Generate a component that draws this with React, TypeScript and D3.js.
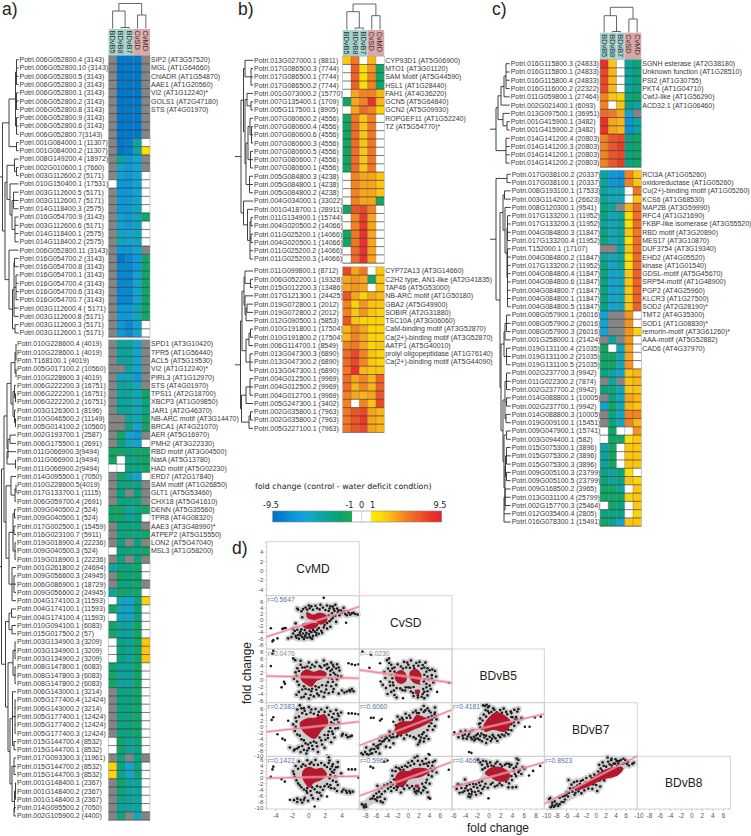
import React from "react";
import * as d3 from "d3";

type Tree = (number | Tree)[];
type V = number | null;
const N: V = null;
const font = "'Liberation Sans', Arial, sans-serif";

const colsBD = ["BDvB5", "BDvB8", "BDvB7", "CvSD", "CvMD"];

// ---------- panel a, upper block
const aTopLabels = ["Potri.006G052800.4 (3143)","Potri.006G052800.10 (3143)","Potri.006G052800.5 (3143)","Potri.006G052800.3 (3143)","Potri.006G052800.1 (3143)","Potri.006G052800.2 (3143)","Potri.006G052800.8 (3143)","Potri.006G052800.9 (3143)","Potri.006G052800.6 (3143)","Potri.006G052800.7(3143)","Potri.001G084000.1 (11307)","Potri.001G084000.2 (11307)","Potri.008G149200.4 (18972)","Potri.002G010600.1 (7660)","Potri.003G112600.2 (5171)","Potri.010G150400.1 (17531)","Potri.003G112600.5 (5171)","Potri.003G112600.7 (5171)","Potri.014G118400.3 (2575)","Potri.016G054700.9 (3143)","Potri.003G112600.6 (5171)","Potri.014G118400.1 (2575)","Potri.014G118400.2 (2575)","Potri.006G052800.11 (3143)","Potri.016G054700.2 (3143)","Potri.016G054700.8 (3143)","Potri.016G054700.1 (3143)","Potri.016G054700.4 (3143)","Potri.016G054700.6 (3143)","Potri.016G054700.7 (3143)","Potri.003G112600.4 ( 5171)","Potri.003G112600.8 (5171)","Potri.003G112600.3 (5171)","Potri.003G112600.1 (5171)"];
const aTopGenes = ["SIP2 (AT3G57520)","MGL (AT1G64660)","ChlADR (AT1G54870)","AAE1 (AT1G20560)","VI2 (AT1G12240)*","GOLS1 (AT2G47180)","STS (AT4G01970)"];
const aTopValues: V[][] = [[N,-9,-9,-9,N],[N,-9,-9,-9,N],[N,-9,-9,-9,N],[N,-9,-9,-9,N],[N,-9,-9,-9,N],[N,-9,-9,-9,N],[N,-9,-9,-9,N],[N,-9,-9,-9,N],[N,-9,-9,-9,N],[N,-9,-9,-9,N],[N,-9,-8.5,-4,0],[N,-9,-8.5,-4,2],[N,-4,-7,-6,N],[N,-6,-7,-6,N],[N,-6,-7,-6,0],[0,-7,-7,-6,0],[N,-7,-7,-6,0],[N,-7,-7,-6,0],[N,-7,-7,-5,0],[N,-6,-7,-5,-2],[N,-6,-7,-5,0],[N,-5,-6,-5,0],[N,-5,-6,-5,0],[N,-7,-7,-6,N],[N,-9,-8,-7,-2],[N,-8,-8,-7,-2],[N,-8,-8,-6,-2],[N,-8,-8,-6,-2],[N,-8,-8,-6,-2],[N,-8,-8,-6,-2],[N,-7,-7,-5,-2],[N,-7,-7,-5,-2],[N,-7,-8,-6,0],[N,-7,-8,-6,0]];
const aTopTree: Tree = [2.5,[9,[15.5,[16.5,4],[16.5,3],[16.5,3]],[16.5,2]],[5,[7,[14.5,1,[16.5,2]],[10,1,[12,[13.5,3],[15,4]]]],[9,1,[12.5,[14,[14.5,2],[16,4],1,1],[15,2]]]]];

// ---------- panel a, lower block
const aLowLabels = ["Potri.010G228600.4 (4019)","Potri.010G228600.1 (4019)","Potri.T168100.1 (4019)","Potri.005G017100.2 (10560)","Potri.010G228600.3 (4019)","Potri.006G222200.3 (16751)","Potri.006G222200.1 (16751)","Potri.006G222200.2 (16751)","Potri.003G126300.1 (8196)","Potri.010G046500.2 (11149)","Potri.005G014100.2 (10560)","Potri.002G193700.1 (2587)","Potri.006G175500.1 (2691)","Potri.011G066900.3(9494)","Potri.011G066900.1(9494)","Potri.011G066900.2(9494)","Potri.014G095500.1 (7050)","Potri.010G228600.5(4019)","Potri.017G133700.1 (1115)","Potri.006G059700.4 (2691)","Potri.009G040500.2 (524)","Potri.009G040500.1 (524)","Potri.017G002500.1 (15459)","Potri.016G023100.7 (5911)","Potri.019G018900.4 (22236)","Potri.009G040500.3 (524)","Potri.019G018900.1 (22236)","Potri.001G261800.2 (24694)","Potri.009G056600.3 (24945)","Potri.006G086900.1 (18729)","Potri.009G056600.2 (24945)","Potri.004G174100.3 (11593)","Potri.004G174100.1 (11593)","Potri.004G174100.4 (11593)","Potri.010G094100.1 (6083)","Potri.015G017500.2 (57)","Potri.003G134900.3 (3209)","Potri.003G134900.1 (3209)","Potri.003G134900.2 (3209)","Potri.008G147800.1 (6083)","Potri.008G147800.3 (6083)","Potri.008G147800.2 (6083)","Potri.006G143000.1 (3214)","Potri.005G177400.4 (12424)","Potri.006G143000.2 (3214)","Potri.005G177400.1 (12424)","Potri.005G177400.2 (12424)","Potri.005G177400.3 (12424)","Potri.015G144700.4 (8532)","Potri.015G144700.1 (8532)","Potri.017G093300.3 (11961)","Potri.015G144700.2 (8532)","Potri.015G144700.3 (8532)","Potri.001G148400.1 (2367)","Potri.001G148400.2 (2367)","Potri.001G148400.3 (2367)","Potri.014G095500.2 (7050)","Potri.002G105900.2 (4400)"];
const aLowGenes = ["SPD1 (AT3G10420)","TPR5 (AT1G56440)","ACL5 (AT5G19530)","VI2 (AT1G12240)*","PIRL3 (AT1G12970)","STS (AT4G01970)","TPS11 (AT2G18700)","XBCP3 (AT1G09850)","JAR1 (AT2G46370)","NB-ARC motif (AT3G14470)","BRCA1 (AT4G21070)","AER (AT5G16970)","PMH2 (AT3G22330)","RBD motif (AT3G04500)","NatA (AT5G13780)","HAD motif (AT5G02230)","ERD7 (AT2G17840)","SAM motif (AT1G26850)","GLT1 (AT5G53460)","CHX18 (AT5G41610)","DENN (AT5G35560)","TPR8 (AT4G08320)","AAE3 (AT3G48990)*","ATPEP2 (AT5G15550)","LON2 (AT5G47040)","MSL3 (AT1G58200)"];
const aLowValues: V[][] = [[N,-4,-4,-6,N],[N,-4,-4,-6,N],[N,-4,-4,-6,N],[N,N,-4,-6,N],[N,-6,-5,-7,N],[N,-4,-4,-5,N],[N,-4,-4,-5,-2],[N,-4,-4,-5,-3],[N,-4,-4,-5,-3],[N,N,-4,-5,-2],[N,N,-3,-6,-2],[N,-2,-6,-7,N],[N,-3,-5,-6,0],[-2,-2,-3,-2,-2],[-2,0,-3,-3,-2],[0,0,-3,-3,-2],[N,-2,-4,-6,0],[N,-3,-3,-3,N],[N,-3,N,-3,N],[N,-3,-3,-3,N],[-2,-2,-4,-3,-2],[-2,-2,-4,-3,0],[N,-3,-3,-3,N],[N,-3,-3,-3,-2],[N,-3,N,-3,N],[0,-3,-3,-3,-2],[N,-3,N,-3,N],[-4,-3,-3,-2,0],[N,-2,-3,-2,0],[N,-3,-3,-2,N],[-4,-2,-3,-2,0],[0,-5,-6,-3,2.5],[-2,-5,-6,-3,0],[0,-5,-6,-3,0],[-2,-4,-4,-2,0],[-2,-4,-4,-2,0],[0,-3,-4,-2,3],[0,-3,-4,-2,3],[0,-3,-4,-2,3],[-2,-4,-4,-2,0],[-2,-4,-4,-2,0],[-2,-4,-4,-2,0],[N,-3,-3,-2,0],[N,-3,-3,-2,0],[N,-3,-3,-2,0],[N,-3,-3,-2,0],[N,-3,-3,-2,0],[N,-3,-3,-2,0],[0,-2,-4,-3,0],[0,-2,-4,-3,0],[N,-3,N,-3,N],[2.5,-3,-6,-3,0],[2.5,-3,-6,-3,0],[N,-2,-4,-4,0],[N,-3,-4,-4,0],[N,-3,-4,-4,0],[N,-4,-4,-4,0],[N,-3,N,-5,N]];
const aLowTree: Tree = [1.5,[4,[7,[11,[15,[16,3],[16,2]],[13,[14.5,1,[15.5,2]],[14.5,1,[15.5,2]]]],[8,[10,2],[7,1,[15.5,2]]]],[6,[11,1,[15,[16,2],1]],[9,[13,[14.5,2],[14,2],[15,3]],[12,1,[14,3],1]]]],[5.5,[9,[11.5,2],[12,2]],[8,[13,[15,3],[15,3]],[10,[12.5,1,[15,5],[14,2]],[12,[14,3],[14.5,[15.5,3],[14,2]]]]]]];

// ---------- panel b, upper block
const bTopLabels = ["Potri.013G027000.1 (8811)","Potri.017G086500.3 (7744)","Potri.017G086500.1 (7744)","Potri.017G086500.2 (7744)","Potri.001G073000.2 (15770)","Potri.007G135400.1 (1709)","Potri.005G117500.1 (8905)","Potri.007G080600.2 (4556)","Potri.007G080600.4 (4556)","Potri.007G080600.6 (4556)","Potri.007G080600.3 (4556)","Potri.007G080600.5 (4556)","Potri.007G080600.7 (4556)","Potri.007G080600.1 (4556)","Potri.005G084800.3 (4238)","Potri.005G084800.1 (4238)","Potri.005G084800.2 (4238)","Potri.004G034000.1 (33022)","Potri.001G418700.1 (28911)","Potri.011G134900.1 (15744)","Potri.004G020500.2 (14066)","Potri.011G025200.1 (14066)","Potri.004G020500.1 (14066)","Potri.011G025200.2 (14066)","Potri.011G025200.3 (14066)"];
const bTopGenes = ["CYP93D1 (AT5G06900)","MTO1 (AT3G01120)","SAM Motif (AT5G44590)","HSL1 (AT1G28440)","FAH1 (AT4G36220)","GCN5 (AT5G64840)","GCN2 (AT5G09930)","ROPGEF11 (AT1G52240)","TZ (AT5G54770)*"];
const bTopValues: V[][] = [[3,5.5,0,3.5,0],[0,6.5,2,4.5,-2],[0,6.5,2,5,-2],[0,6.5,2,5,-2],[0,4,5,5,3.5],[-2,4,5,8.5,3.5],[0,4,6,5,2.5],[-2,5.5,3,5,0],[-2,6,3,5.5,0],[-2,6,3,5.5,0],[-2,6,3,5.5,0],[-2,6,3,5.5,0],[-2,6,3,5.5,0],[-2,6,3,5.5,0],[0,5,4,4,3],[0,5,4,4,3],[0,5,4,4,3],[0,5,4,4,-2],[-2,7,7.5,5,0],[0,5,8,4,0],[0,5,8,4,0],[-2,5.5,8.5,4,0],[-2,5.5,8.5,4,0],[0,6,8.5,4,0],[0,6,8.5,4,0]];
const bTopTree: Tree = [6,[8.5,[10,1,[16,3]],[10,[12,1,[16,2]],[11,[13,[15,1,[16.5,3]],[15.5,3]],[14.5,3]]]],[8.5,1,[12.5,1,[15,[16,2],[16,2],2]]]];

// ---------- panel b, lower block
const bLowLabels = ["Potri.011G099800.1 (8712)","Potri.006G052200.1 (19328)","Potri.015G012200.3 (13486)","Potri.017G121300.1 (24425)","Potri.019G072800.1 (2012)","Potri.019G072800.2 (2012)","Potri.012G090500.1 (5853)","Potri.010G191800.1 (17504)","Potri.010G191800.2 (17504)","Potri.006G114700.1 (8549)","Potri.013G047300.3 (6890)","Potri.013G047300.2 (6890)","Potri.013G047300.1 (6890)","Potri.004G012500.1 (9969)","Potri.004G012500.2 (9969)","Potri.004G012700.1 (9969)","Potri.005G247300.1 (3402)","Potri.002G035800.1 (7963)","Potri.002G035800.2 (7963)","Potri.005G227100.1 (7963)"];
const bLowGenes = ["CYP72A13 (AT3G14660)","C2H2 type, AN1-like (AT2G41835)","TAP46 (AT5G53000)","NB-ARC motif (AT1G50180)","GBA2 (AT5G49900)","SOBIR (AT2G31880)","TSC10A (AT3G06060)","CaM-binding motif (AT3G52870)","Ca(2+)-binding motif (AT3G52870)","AATP1 (AT5G40010)","prolyl oligopeptidase (AT1G76140)","Ca(2+)-binding motif (AT5G44090)"];
const bLowValues: V[][] = [[7.5,4,5.5,0,3],[4,4.5,4,-2,3],[4,4.5,4,0,3],[7,4,2.5,4,3.5],[5,2.5,4.5,3,3],[5,3,4.5,3,2.5],[7,3,2.5,2.5,2.5],[3.5,5,4,2.5,2.5],[3.5,5,4,2.5,2.5],[5,5.5,4,2.5,3],[6,7.5,5,3,2.5],[6,7.5,5,3,2.5],[5.5,8.5,3.5,3,3],[6,4,5,3.5,6.5],[6,3.5,5,3.5,6.5],[5,4,3.5,4,7],[5,0,5,3,7.5],[5.5,7,7.5,4,3.5],[5.5,7,8,4,3.5],[5.5,7,7.5,4,3.5]];
const bLowTree: Tree = [5.5,[7,[9,[10,1,[15.5,2]],[10,1,[11,[12,2],1]]],[11,[14,[15.5,2],1],[15,3]]],[6.5,[11,[15,3],1],[14,[15.5,2],1]]];

// ---------- panel c, upper block
const cTopLabels = ["Potri.016G115800.3 (24833)","Potri.016G115800.1 (24833)","Potri.016G115800.4 (24833)","Potri.016G116000.2 (22322)","Potri.011G059800.1 (27464)","Potri.002G021400.1 (6093)","Potri.013G097500.1 (36951)","Potri.001G415900.1 (3482)","Potri.001G415900.2 (3482)","Potri.014G141200.4 (20803)","Potri.014G141200.3 (20803)","Potri.014G141200.1 (20803)","Potri.014G141200.2 (20803)"];
const cTopGenes = ["SGNH esterase (AT2G38180)","Unknown function (AT1G28510)","PSI2 (AT1G30755)","PKT4 (AT1G04710)","CwfJ-like (AT1G56290)","ACD32.1 (AT1G06460)"];
const cTopValues: V[][] = [[8.5,3,0,-4,-3],[7.5,3.5,0,-4,-3],[7.5,3.5,0,-4,-3],[7.5,3.5,0,-4,-3],[5,3,2.5,-3,-2],[5,0,3,-3,-4.5],[6,5.5,4,-6,N],[8.5,4,3.5,-7.5,-4],[8.5,4,3.5,-7.5,-4],[5,7,7.5,-3,-2],[5,7,8,-3,-2],[5,7,7.5,-3,-2],[5,7,8,-3,-2]];
const cTopTree: Tree = [6,[8,[11,[14,[16,4],1],1],[13,1,[17,2]]],[16,4]];

// ---------- panel c, lower block
const cLowLabels = ["Potri.017G038100.2 (20337)","Potri.017G038100.1 (20337)","Potri.008G193100.1 (17533)","Potri.003G114200.1 (26623)","Potri.008G120300.1 (9541)","Potri.017G133200.1 (11952)","Potri.017G133200.3 (11952)","Potri.004G084800.3 (11847)","Potri.017G133200.4 (11952)","Potri.T152000.1 (17107)","Potri.004G084800.2 (11847)","Potri.017G133200.2 (11952)","Potri.004G084800.4 (11847)","Potri.004G084800.6 (11847)","Potri.004G084800.7 (11847)","Potri.004G084800.1 (11847)","Potri.004G084800.5 (11847)","Potri.008G057900.1 (26016)","Potri.008G057900.2 (26016)","Potri.008G057900.3 (26016)","Potri.001G258000.1 (21424)","Potri.019G131100.4 (21035)","Potri.019G131100.2 (21035)","Potri.019G131100.5 (21035)","Potri.002G237700.3 (9942)","Potri.011G022300.2 (7874)","Potri.002G237700.2 (9942)","Potri.014G088800.1 (10005)","Potri.002G237700.1 (9942)","Potri.014G088800.3 (10005)","Potri.019G009100.1 (15451)","Potri.009G047900.1 (15741)","Potri.003G094400.1 (582)","Potri.015G075300.1 (3896)","Potri.015G075300.2 (3896)","Potri.015G075300.3 (3896)","Potri.009G005100.3 (23799)","Potri.009G005100.5 (23799)","Potri.009G168500.2 (3965)","Potri.013G031100.4 (25799)","Potri.002G157700.3 (25464)","Potri.012G035400.4 (2805)","Potri.016G078300.1 (15491)"];
const cLowGenes = ["RCI3A (AT1G05260)","oxidoreductase (AT1G05260)","Cu(2+)-binding motif (AT1G05260)","KCS6 (AT1G68530)","MAP2B (AT3G59990)","RFC4 (AT1G21690)","FKBP-like isomerase (AT3G55520)","RBD motif (AT3G20890)","MES17 (AT3G10870)","DUF3754 (AT3G19340)","EHD2 (AT4G05520)","kinase (AT1G01540)","GDSL-motif (AT5G45670)","SRP54-motif (AT1G48900)","PGP2 (AT4G25960)","KLCR3 (AT1G27500)","SOD2 (AT2G28190)*","TMT2 (AT4G35300)","SOD1 (AT1G08830)*","remorin-motif (AT3G61260)*","AAA-motif (AT5G52882)","CAD6 (AT4G37970)"];
const cLowValues: V[][] = [[-4,-7,-7.5,5,3],[-4,-7,-7.5,5,3],[-4,-5,-5,0,5.5],[-4,-5,-5,0,3],[-3,-4,N,3.5,6],[-3,-5,-4,2,6],[-4,-5,-4,2,6],[-3,-5,-4,3,5.5],[-3,-5,-4,2,6],[N,N,-4,3,6],[-4,-5,-4,2,6],[-3,-6,-4,2,6],[-3,-6,-5,3,6.5],[-3,-6,-5,3,6.5],[-3,-6,-5,3,6.5],[-3,-6,-5,3,6.5],[-3,-6,-5,3,6.5],[-6,N,N,4.5,0],[-6,N,N,4.5,0],[-6,N,N,4.5,2.5],[N,-4,N,4.5,0],[-2,0,-5,4,0],[-2,-2,-5,4,0],[-2,-2,-5,4.5,0],[-3,-4,-6,3,3.5],[N,-4,N,3,3.5],[-3,-3,-5,3,3],[N,-3,-5,4,3.5],[-6,-2,-5,3.5,3],[N,-3,-5,5,5],[N,-3,-5,5,3.5],[0,-2,0,0,4.5],[0,-2,-2,2,3],[-4,-2,0,3,3],[-4,-2,0,3,3],[-4,-2,0,3,3],[-3,-4,-3,2,0],[-3,-4,-3,3,2.5],[-2,-2,-4,0,3],[-2,-2,-2,2.5,3],[0,-2,-3,0,3],[-3,-3,-3,0,2.5],[-2,-3,-6,3,3]];
const cLowTree: Tree = [6,[17,2],[10,[13,[14.5,2],[15,1,[17,[17.5,4],[17.5,8]]]],[11,[14,[15,[16.5,3],1],[16.5,3]],[13,[15,[16.5,3],[16.5,2],[16,2]],[14,[16.5,2],[15,[15.5,[16.5,3],[16.5,2]],[14,[15,3],1,1]]]]]]];

// column dendrogram: position along the height axis, then the columns it joins
const aColTree: Tree = [3.5,[11,1,[27.5,2]],[15,2]];
const bColTree: Tree = [4,[11.7,1,[28,2]],[15.7,2]];
const cColTree: Tree = [7.3,[15.7,1,[31.5,2]],[19,2]];

// ---------- legend
const legendTicks = [-9.5, -1, 0, 1, 9.5];
const colorStops = [-9.5,-8.5,-7.5,-6.5,-5.5,-4.5,-3.5,-2.5,-1,1,2,3,4,5,6,7,8,9.5];
const colorValues = ["#0072c8","#0080cf","#0a92d8","#0d9fdc","#12a8c8","#0aa5ad","#0aa590","#08a570","#20a850","#ffec00","#fee000","#fdc50f","#f9a51a","#f58220","#f16a28","#ec5528","#e93a28","#e8202a"];
const colorScale = d3.scaleLinear<string>().domain(colorStops).range(colorValues);
const cellFill = (v: V) => (v === null ? "#858585" : Math.abs(v) < 1 ? "#ffffff" : colorScale(v));

// ---------- panel d
const traits = ["CvMD", "CvSD", "BDvB5", "BDvB7", "BDvB8"];
const xDomains = [[-5.1,6.1],[-9.2,8.2],[-6.3,9.4],[-10.5,8.3],[-10.3,7.3]];
const yDomains = [[6.2,-5.3],[8,-9.5],[8.9,-6.5],[8.1,-9.95],[7,-10.3]];
const xTickVals = [[-4,-2,0,2,4],[-8,-6,-4,-2,0,2,4,6],[-6,-4,-2,0,2,4,6,8],[-10,-8,-6,-4,-2,0,2,4,6],[-10,-8,-6,-4,-2,0,2,4,6]];
const yTickVals = [[4,2,0,-2,-4],[6,4,2,0,-2,-4,-6,-8],[8,6,4,2,0,-2,-4,-6],[6,4,2,0,-2,-4,-6,-8,-10],[6,4,2,0,-2,-4,-6,-8,-10]];

type P = [number, number];
const ptsMD_SD: P[] = [[-4.6,-2.7],[-4.3,-6.6],[-4.4,-7],[-3.8,-6],[-3.2,-2.9],[-3,-2.7],[-2.8,-2.6],[-2.5,-6],[-2.1,-5.6],[-1.9,-4.4],[-1.6,-1.1],[-1.5,-5.8],[-1.3,-4.9],[-1.2,-6.1],[-1,-5],[-.8,-5.6],[-.6,-6.2],[-.4,-5],[-.2,-5.8],[0,-4.6],[.2,-5.9],[.4,-6.1],[.3,-4],[.7,-3.8],[.9,-5],[1.2,-4.5],[-.5,-3.3],[-1,-3.7],[1.5,-3.5],[-1.4,3.8],[-1.3,3.4],[-.9,2.9],[-.4,4.1],[0,4.8],[.3,4.5],[.8,4.7],[1,3.9],[1.4,5],[1.8,7.3],[2.2,4.8],[2.5,3.8],[2.9,4.4],[3.2,5],[3.4,3.8],[3.1,3],[2.8,2.2],[3.5,2.6],[3.7,1.6],[3.9,3.1],[4.2,4],[4.4,2],[4.6,1.6],[4.8,2.5],[5,1.8],[5.2,2.2],[5.4,2.4],[5.6,2],[5.9,1.8],[2.9,.8],[3.3,-.6],[2.2,-1],[2.6,-2.2],[1.8,-2.4],[4.5,-.9],[-.8,.9],
  [-.7,3.6],[-.2,3.4],[.1,3.9],[.5,3.4],[1.3,3.5],[1.7,4.1],[2,3.3],[2.4,3],[2.6,4.5],[3,3.6],[3.6,3.2],[4,2.4],[4.3,2.8],[2.4,1.5],[2.7,.2],[3.2,1.4],[2.5,-.4],[1.9,-1.6],[2.2,-2.8],[1.2,-2.6],[1.6,-4.2],[.9,-4.2],[.5,-3.3],[.1,-3.6],[-.3,-4.2],[-.7,-4.4],[-1.1,-4.2],[-1.4,-3.2],[-.9,-3],[-1.6,-5.2],[-.5,-5.5],[.5,-5.2],[.1,-5.4],[-1.7,-3.6],[-1.9,-2.9],[1,-3.2]];
const ptsMD_B5: P[] = [[-4.3,8.4],[-4.4,7.5],[-4.6,4],[-1.9,6.2],[-1.65,5.7],[-1,5.5],[-3,-.5],[-2.9,-1.1],[-3.3,-2.1],[4.8,4.8],[5.2,4.5],[5.6,4.3],[6,4.5],[4,-3],[4.6,-3.3],[5,-3.2],[5.4,-3.2],[5.2,-2.6],[4.3,-3.6],[3.6,-3.9],[-1.5,-4.2],[-1.2,-3.4],[-.9,-5],[-.6,-1.8],[-.4,-4],[0,-5.3],[.3,-3.2],[.6,-4.7],[.9,-2.8],[1.2,-4.4],[1.5,-3.3],[1.8,-4.8],[2.1,-2.7],[2.4,-3.8],[2.7,-1.8],[3,-2.6],[-1.4,3.4],[-1,4.4],[-.5,3.6],[0,5],[.4,4.4],[.9,5.1],[1.3,4],[1.8,5.6],[2.2,4.5],[2.7,5],[3,3.8],[3.4,4.5],[3.7,2.7],[3.2,1.6],[3.9,1],[3.4,.2],[2.9,-.5],[2.4,.6],[2.6,2.6],[-1.5,1.2],[-1.8,.4],
  [-.8,3.6],[-.2,3.9],[.2,3.5],[.7,3.9],[1.5,3.6],[1.9,4.2],[2.4,3.6],[2.9,4.4],[3.3,3.3],[3.6,3.6],[2.8,3],[2.2,3.2],[3,2.1],[3.5,1.2],[2.6,1.5],[2.8,.4],[2.3,-.6],[2.1,-1.6],[1.6,-1.5],[1.2,-2.1],[.8,-1.8],[.4,-2.5],[0,-2.7],[-.4,-2.5],[-.8,-2.7],[-1.2,-1.4],[-1.4,-.4],[-1.6,2.2],[-1.2,2.6],[1.9,-3.6],[2.9,-3.4],[.2,-4.3],[-.6,-4.8],[1,-3.9],[3.3,-1.4],[4.9,-2.9]];
const ptsMD_B7: P[] = [[-4.3,3.2],[-4.5,2.3],[-3.8,-2.5],[-3.2,-4],[-2.9,-4.5],[-2.5,2],[4.8,4.5],[5.2,4.5],[5.6,4.4],[6,4.2],[4,-3],[4.5,-2.8],[5,-3.3],[5.2,-3],[4.7,-3.5],[-2.3,-7],[-1.8,-8],[-1.4,-7.3],[-1,-8.5],[-.6,-7.8],[-.8,-6.5],[-.3,-9],[1.1,-8.5],[2.2,-9.6],[-1.1,7.2],[-.9,6.2],[-.5,5.4],[0,6.6],[.3,5.8],[.8,6],[1.2,5],[2.2,6.4],[2.6,5.2],[3,4.4],[3.3,5.6],[3.6,3.6],[3.9,4.8],[3.4,2.5],[3,1],[3.5,-.4],[2.8,-1.6],[2.3,-2.8],[3.1,-3.6],[2,-4.4],[1.3,-3.6],[1.6,-6],[.9,-5.4],[.4,-6.4],[0,-7.2],[-.4,-5.6],[-.9,-4.2],[-1.4,-2.6],[-1.6,0],[-1.2,3.4],[-1.5,1.8],[1.9,-7.1],[2.7,-5.2],
  [-.8,4.6],[-.3,4.2],[.2,4.8],[.6,4.4],[1.5,5.8],[1.9,5],[2.4,4],[2.8,3.2],[3.1,2.4],[3.5,4.4],[2.7,1.5],[3.2,-.6],[2.6,-.4],[2.9,-2.4],[2.4,-1.6],[1.9,-2.8],[1.5,-4.6],[2.3,-3.8],[1,-6.6],[.6,-5],[.2,-5.4],[-.1,-6],[-.6,-4.6],[-.2,-8],[.5,-7.6],[-1.1,-3],[-1.7,-1.4],[-1.9,.8],[-1.6,3],[-1.4,5.8],[-.6,6.2],[1.1,3.9],[3.6,1.4],[4.1,-2.4],[-1.7,-7.6],[-1.2,-6.8]];
const ptsMD_B8: P[] = [[-4.3,3.6],[-4.4,2.7],[-4.6,.3],[-3.3,-.5],[-2.9,-1.3],[4.8,2.7],[5.2,2.7],[5.6,2.7],[6,0],[4,-4.6],[4.5,-4.3],[5,-5],[5.3,-4.6],[4.6,-5],[-2.3,-7.3],[-1.8,-7.4],[-1.4,-8],[-1,-7.3],[-.8,-8.2],[-.5,-6.6],[.7,-9.5],[1.1,-7],[2.2,-6.2],[-1.2,5.3],[-.7,4.4],[-.2,5.7],[.3,5],[.8,5.8],[1.1,4.2],[2.4,6.7],[2.5,5.6],[2.9,4.4],[3.3,3.4],[3.5,5.1],[2.8,1.9],[3.2,.4],[2.9,-1],[3.5,-2.4],[2.2,-2.1],[2.7,-3.5],[1.7,-4],[1,-4.8],[.3,-5.8],[-.3,-4.3],[-.9,-3.2],[-1.3,-1.9],[-1.7,.3],[-1.9,2],[-1.3,2.9],[1.5,-5.9],[.5,-6.8],[-.1,-7.6],[3.4,-4.4],[2.2,3.5],[3.9,1.4],
  [-.9,3.6],[-.4,3.9],[.1,4.5],[.6,4.2],[1.5,4.8],[1.9,4.1],[2.4,4.8],[2.8,3.7],[3.1,2.6],[3.5,3.5],[2.6,2.8],[2.6,.9],[3,1.6],[2.5,-.2],[3.3,-1.4],[2.6,-2.4],[1.9,-2.8],[2.4,-3],[1.4,-3.1],[1,-2.8],[.7,-3.8],[.2,-4.4],[-.2,-5],[-.6,-3.9],[-1.1,-2.5],[-1.5,-.9],[-1.8,1.2],[-1.6,3.8],[3.1,-3.6],[1.3,-5],[-.6,-7.3],[-1.4,-6.9],[-.2,-3.4],[.4,-3.2],[4.2,-3.9],[4.9,-4.4]];
const ptsSD_B5: P[] = [[-7,7.2],[-8.6,8.2],[-5.3,4.8],[-4,5.7],[-3.6,6.2],[-3.6,4.9],[-7.3,3.5],[-5.2,-.4],[-4.8,-1.4],[-4.2,-2.3],[-3.9,-4],[-3.2,-3.4],[-2.6,-4.3],[-2.2,-5],[-4.3,.6],[-4.5,2.3],[-3.8,3.3],[-3.2,4.4],[-2.6,3.6],[-2,4.5],[-1.4,3.9],[-.8,5.2],[0,4.4],[.5,5.6],[1,4.1],[1.5,4.9],[2.1,5.2],[2.7,4.3],[3.2,5],[3.6,3.4],[4,2.8],[4.5,3],[5,2.6],[4.4,1.4],[3.8,.2],[4.7,-.7],[3.4,-2.1],[4.2,-2.6],[3,-3.4],[3.6,-4.4],[2.5,-4.8],[1.8,-5],[1,-4.6],[.5,-3.3],[0,-2.1],[-.6,-3],[-1.5,-2.4],[-2.8,-1.5],[-3.2,1.5],[7.6,-.8],[5.2,1],[5.4,-3.4],[-1,-5.2],
  [-3.4,2.6],[-3,3.3],[-2.6,2.4],[-1,3.3],[-.4,3.6],[.3,3.5],[1.1,3.4],[1.9,4.1],[2.5,3.3],[3,3.6],[3.4,2.4],[3,1.5],[3.6,1],[3.1,.2],[2.9,-.4],[3.4,-1.1],[4,-1.6],[3.6,-3.2],[2.8,-2.6],[2.7,-4],[.9,-3.7],[1,-2],[.4,-2.2],[-.5,-2.1],[-1.1,-2.9],[-2.2,-2.3],[-2.7,-3],[-3.4,-1.6],[-3.5,-.5],[-3,.5],[-2.9,-.7],[1.8,-4.4],[3,-5.2],[4.4,.4],[-.2,5]];
const ptsSD_B7: P[] = [[-8.8,-8.9],[-8.5,-9.4],[-8.1,-8.5],[-7.8,-9.2],[-7.2,-8],[-6.8,-8.9],[-6.4,-7.5],[-6,-6.6],[-6.5,-6],[-5.7,-7.2],[-5.2,-5.8],[-5,-3.5],[-4.3,-3.2],[-3.5,-3],[-2.8,-3.5],[-2.2,-3.4],[-7,3],[-6.5,3],[-5.3,2.1],[-5,2.6],[-4.2,-6.7],[-3.4,-7],[-4.6,-4.8],[-3.6,-4.6],[-2.8,-5.6],[-7.9,-7],[-5.4,-9],[-2.3,.5],[-2.8,1.7],[-2,3.4],[-1.2,3],[-.5,4.4],[.2,3.8],[.9,4.8],[1.4,5.4],[2.4,5.8],[2.9,7],[3.6,6.2],[4.2,4.8],[4.8,3.2],[5.3,2.5],[5,6.5],[7.6,3.4],[5,.2],[4.3,1.2],[4.6,-1],[2.6,-2.5],[3.4,-3.1],[2.2,-4.6],[1.4,-4],[2.9,-5],[1.8,-6],[3.8,-9.2],[4,-9.5],[.3,-3.1],[-.8,-4],[-1.4,-2.9],[3.8,3.2],[5,4.8],
  [-7.5,-9.5],[-7.1,-9.1],[-6.9,-7.5],[-6.1,-8.4],[-5.6,-6.2],[-5.4,-4.7],[-4.9,-5],[-4.4,-4.2],[-4,-3.8],[-3.2,-3.6],[-2.9,-2.4],[-3.5,-1.7],[-2.4,-1.4],[-1.6,2.4],[-1,2.4],[-.3,3],[.4,3],[1.6,4.6],[2,4.6],[2.9,5],[3.2,5.5],[3.9,5.4],[4.4,3.6],[4.9,4.2],[5.2,3.6],[4.4,2.4],[3.9,.2],[3.6,-1.1],[2.9,-1.9],[2,-3],[3,-3.9],[2.4,-3.6],[3.8,-4.1],[1,-3.5],[-.3,-2.7],[-2,-3],[2.1,-5.2]];
const ptsSD_B8: P[] = [[-8.7,-8.7],[-8.4,-9.2],[-8,-8.8],[-8.3,-9.8],[-7.9,-9.6],[-7.1,-7],[-6.7,-6.8],[-6.5,-6],[-6,-5.2],[-5.8,-6.5],[-5.5,-4.6],[-5.2,-7.8],[-4.8,-8.2],[-4.4,-7],[-5,-3.4],[-4.5,-2.6],[-3.9,-2.2],[-3.3,-1.6],[-2.9,-2.2],[-7.1,3.6],[-6.6,3.2],[-4.5,5.2],[-3.9,5.6],[-3,2.3],[-2.4,2.1],[-1.8,3.1],[-1.2,3.5],[-.6,3.9],[0,4.9],[.7,5.4],[1.2,6.6],[1.7,7],[2.6,5.4],[3.3,6.2],[3.9,5],[4.5,3.9],[5,5.5],[4.9,3],[7.6,2.6],[5.3,1.7],[4.4,.4],[3.5,-.7],[4,-2],[3.2,-3.4],[1.6,-4.3],[1.5,-5.2],[2.4,-5],[1.9,-4.5],[3.8,-6.5],[4.1,-6.9],[.2,-3.4],[-.8,-3.7],[-1.4,-4.9],[-2.2,-4],[-3.2,-4.4],[-5.8,-2.7],
  [-6.2,-7.1],[-5.9,-7.6],[-5.3,-6.3],[-5,-5.4],[-4.4,-4.5],[-3.8,-3.6],[-3.3,-3],[-2.7,-3.4],[-2.2,-2.8],[-3,.6],[-2.7,-.6],[-2.3,3.4],[-1.5,2.6],[-.9,2.6],[-.2,3.5],[.4,4],[1.1,4.5],[1.8,5.5],[2.2,4.2],[2.9,4.5],[3.4,4.6],[3.7,3.8],[4.2,2.9],[4.6,5.1],[4.5,2.2],[3.8,.9],[3.3,-1.6],[2.6,-2],[2.9,-3],[2,-3.6],[2.8,-4.2],[1.2,-4.6],[1.1,-3.7],[-.2,-2.6],[-1.1,-2.8],[-2,-3.2],[3.6,-4.8],[.7,-2.8]];
const ptsB5_B7: P[] = [[-1,7.2],[-.7,7],[-.4,7.4],[-.2,6.5],[0,6.9],[7.8,3.1],[8.8,3.4],[6.1,0],[6.9,0],[4.8,5.1],[5,6],[4.3,5.7],[-3.4,-8.5],[-3,-8.8],[-5.9,-1.9],[-5.2,-3.5],[-4.8,-1.6],[-4.5,-3],[-4,-1.4],[-3.8,-4],[-3.4,-2.5],[-3.1,-3.6],[-2.8,-1.2],[-2.5,-4.6],[-2.2,-2.9],[-1.9,-4],[-1.5,-3.1],[-1.2,-4.9],[-.8,-3.6],[-.3,-4.2],[.3,-4.8],[.8,-3.3],[1.4,-4.8],[1.9,-3.5],[2.6,-3],[3.3,-2.5],[3.8,-1.2],[4.3,.3],[5,1.4],[5.5,2.9],[4.6,3.3],[3.8,4.6],[2.9,5],[1.9,5.6],[.9,5.7],[0,4.6],[-.9,4.1],[-1.5,2.8],[-1.7,.9],[-1.2,-.7],[2.5,6.1],[4,3.2],[-.5,-5.5],[.6,-2.7],
  [-4.4,-3.9],[-4.1,-2.6],[-3.6,-3.2],[-3.2,-1.6],[-2.9,-4.2],[-2.6,-3.4],[-2.3,-4],[-1.9,-2.4],[-1.6,-4.4],[-1.3,-2.3],[-.9,-2.8],[-.5,-3],[.1,-3.4],[.5,-4],[1.1,-3.9],[1.6,-2.9],[2.2,-2.6],[2.9,-2],[3.3,-1],[3.8,.9],[4.2,1.5],[4.4,2.3],[3.8,3.3],[3.1,4.2],[2.2,4.7],[1.3,4.9],[.4,5],[-.5,3.4],[-1.1,2.1],[-1.5,1.2],[-1.5,-.2],[4.7,2.5],[-.6,5.6],[-.2,5.3],[.7,6.2],[3.7,5.1]];
const ptsB5_B8: P[] = [[-3.5,-6.2],[-3.2,-6.4],[-.1,-6.8],[3.3,-3.2],[4,-3.2],[4.6,-3.1],[4.7,6.3],[5,5.8],[-1.9,5.8],[-1.5,5],[-1.2,4.2],[-.7,3.2],[-.3,4.5],[.4,4],[1.1,4.6],[1.9,4.4],[2.7,4.2],[3.5,3.6],[4.2,3.1],[4.8,4.6],[5.2,2.4],[6,2.9],[6.8,.7],[8.7,3.8],[7.5,2.2],[5.5,1.2],[4.6,.5],[3.9,-.8],[-5.3,-2.2],[-5.5,-3.7],[-5,-5],[-4.7,-3.4],[-4.2,-4.4],[-3.8,-2.7],[-3.4,-5.3],[-3.1,-3.8],[-2.7,-2],[-2.4,-4.7],[-2,-3.3],[-1.7,-1.6],[-1.4,-5.1],[-1.1,-3.7],[-.6,-2],[-.2,-3.3],[.3,-2.2],[1,-2.9],[1.8,-1.9],[-4.1,-.6],
  [-4.9,-2.4],[-4.5,-4.8],[-4,-3.5],[-3.6,-4.2],[-3.3,-2.2],[-2.9,-4.6],[-2.6,-3],[-2.2,-2.2],[-1.8,-4.4],[-1.5,-2.6],[-1.2,-1.2],[-.8,-3],[-1.1,2.7],[-1,5.5],[-.5,5.3],[-.2,3.7],[.2,5],[.8,3.7],[1.4,5.2],[2.2,3.7],[3,4.6],[3.4,4.5],[3.8,4.2],[4.2,2.2],[4.6,3.6],[4.4,1.2],[3.8,.5],[2.9,-1.3],[3.4,-1.9],[2.2,-2.5],[1.4,-2.6],[.6,-1.7],[-2.2,-5.6],[-3,-5.5],[5,1.8],[5.7,3.4]];
const ptsB7_B8: P[] = [[-9.5,-7],[-9.3,-6.7],[-9.2,-9.7],[-8.9,-9],[-8.6,-9.6],[-8.4,-7.8],[-8,-8.6],[-7.7,-9.3],[-7.4,-6.6],[-7,-8],[-6.8,-6.2],[-6.3,-7.2],[-6,-5.6],[-5.7,-6.2],[-5.3,-3.5],[-5,-2.3],[-4.8,-4.6],[-4.5,-1.5],[-4.2,-5],[-3.9,-1.2],[-3.6,-4.5],[-3.3,-2],[-3,-5.1],[-2.7,-.8],[-2.4,-4.2],[-2,-.1],[-1.6,-3.6],[-1.2,.5],[-.8,-3.7],[-.4,1],[0,-2.4],[.4,2],[.8,-2.9],[1.2,2.3],[1.6,-.9],[2,3.6],[2.4,5.2],[2.7,.4],[3,5.7],[3.5,4.6],[3.8,1.2],[4.2,5.4],[4.6,2.5],[5,5.8],[5.5,6.2],[5.9,5.7],[6.2,4.5],[6.6,4],[7.3,4.5],[7.6,4.9],[2.3,6.6],[1.3,5],[.6,4.2],[3.4,2.4],[-.3,-1.5],[.2,-4.4],[-5.6,-.8],
  [-8.9,-8.2],[-8.3,-9.2],[-7.4,-8.7],[-6.6,-8],[-6.4,-6],[-5.9,-4.8],[-5.5,-5],[-5.1,-4],[-4.6,-3.4],[-4.1,-3.9],[-3.8,-2.6],[-3.4,-3.6],[-3.1,-1.1],[-2.8,-2.6],[-2.4,-3],[-2.1,-1.5],[-1.7,-2.5],[-1.3,-1.2],[-.9,-.1],[-.6,-2.2],[.3,-1],[.7,-.9],[.9,3],[1.5,3.9],[1.8,.5],[2.3,1],[2.7,4.4],[3.1,4],[3.3,.9],[3.8,4.6],[4.2,3.9],[4.5,4.6],[4.9,3.2],[5.3,4.5],[5.7,4.8],[6.4,5.2],[3.1,6.2],[3.9,6],[4.6,5.4],[-4.4,-5.6]];

const greyMD_SD: P[][] = [[[-1.3,3.6],[.2,4.5],[2.5,4.6],[3.6,3.5],[3.8,1.8],[2.5,-.5],[1.5,-3],[-.5,-4.5],[-1.8,-4.5],[-1.3,-2],[-.5,-.3],[-1.2,2.5]]];
const redMD_SD: P[][] = [[[-.3,2.6],[.55,1.8],[1.2,2.4],[2.1,1.7],[2.2,-.4],[1.4,-1.5],[.6,-.1],[-.15,.6]],[[-.85,-1.4],[.36,-.9],[1.17,-1.3],[.77,-2.7],[-.44,-2.8]]];
const greyMD_B5: P[][] = [[[-1.6,4.5],[1,5],[3.3,4.5],[3.9,1.5],[2.6,-1.5],[1,-3],[-.5,-3.2],[-1.5,-1]]];
const redMD_B5: P[][] = [[[-.97,1.9],[-.24,3.1],[.57,2.4],[1.37,2.9],[2.18,1.9],[1.78,.5],[.97,-.2],[.36,-1.9],[-.24,-1.4],[-.93,0]]];
const greyMD_B7: P[][] = [[[-1.5,6],[0,5.5],[2,4.5],[3.8,3.5],[3.8,0],[2.5,-3],[1,-5],[0,-6],[-1,-4],[-1.8,0]]];
const redMD_B7: P[][] = [[[-1.1,1.3],[-.2,2.9],[.7,3],[1.9,4.2],[2.35,1.2],[1.6,-1.1],[.77,-4],[.16,-3.6],[-.85,-1.1]]];
const greyMD_B8: P[][] = [[[-1.4,4.8],[.8,5.2],[3.2,4.6],[3.4,1],[2.3,-2.5],[1,-4],[-.2,-5],[-1.2,-2.5],[-1.8,1]]];
const redMD_B8: P[][] = [[[-.85,1.1],[-.5,3],[.1,3.6],[.8,2.9],[1.6,3.2],[2.2,1],[1.5,-.8],[.6,-1.8],[.1,-3.3],[-.5,-1.8]]];
const greySD_B5: P[][] = [[[-3.8,3.2],[-1,4],[2.2,4.6],[4.2,2.6],[4.2,-.2],[3,-3.4],[1.5,-4.4],[.3,-2.4],[-2.5,-2.4],[-3.6,-.6]]];
const redSD_B5: P[][] = [[[-2.5,1.9],[-1.25,2.9],[-.3,1.4],[-.5,-.5],[-1.6,-1.1],[-2.4,0]],[[.3,2.4],[1.56,3.1],[2.5,1.4],[2.2,-1],[3.8,-1.4],[1.25,-1],[.3,.5]],[[1.25,-2.9],[2.2,-2.9],[2,-4.1],[1.4,-4.1]]];
const greySD_B7: P[][] = [[[-9,-9.5],[-7,-6.8],[-5,-3.8],[-2.8,-1],[-2.2,2.6],[.8,4.4],[3.2,6.2],[4.8,3.6],[4,.2],[2,-2],[1.2,-3],[-.4,-3.4],[-4,-5],[-6,-8.8]]];
const redSD_B7: P[][] = [[[-2.5,-.6],[-1.6,1.7],[.6,2],[1.56,4],[2.8,3.4],[4.4,2.3],[3.1,.6],[.9,-1.1],[-.6,-2.3],[-1.9,-2.8]]];
const greySD_B8: P[][] = [[[-9,-9],[-7,-5.5],[-4.5,-2.6],[-2.8,1.6],[0,3.6],[2,5.4],[4.6,5],[5,2],[3,.2],[3.4,-4.6],[1.6,-4.6],[-1,-3.6],[-4,-4.6],[-6,-8],[-8.5,-9.9]]];
const redSD_B8: P[][] = [[[-2.5,-.2],[-1.6,2],[.3,2.3],[.9,3],[3.4,3],[4,2],[2.5,.3],[0,-.8],[-.6,-2.4],[-1.9,-3]],[[1.25,-2.4],[2,-2.4],[2,-3.2],[1.25,-3.2]]];
const greyB5_B7: P[][] = [[[-1.6,4.6],[1,5.8],[4,5],[4.6,1],[3,-2.2],[0,-3.6],[-3,-4.4],[-5,-4],[-4.6,-1.8],[-1.6,-1.2],[-1.5,2]]];
const redB5_B7: P[][] = [[[-1,0],[-.4,2.3],[1.3,5],[3.8,1.7],[3.5,0],[2.7,-1.7],[.7,-1.1],[-.7,-1.7]]];
const greyB5_B8: P[][] = [[[-1.6,4.4],[1,4.6],[3,4.8],[4.6,4.6],[5,2],[3,-1.6],[0,-1.8],[-2.8,-4.8],[-5,-4.6],[-4.6,-2.2],[-2,-.8],[-1,2]]];
const redB5_B8: P[][] = [[[-.7,1.4],[.45,3.4],[2.1,3.4],[3.5,1.4],[3.3,-.8],[1.6,-1.3],[.45,-.2]]];
const greyB7_B8: P[][] = [[[-9.6,-9.6],[-9.2,-7],[-6,-5],[-5.2,-2],[-2.5,0],[.5,3],[3,5.6],[5.8,6],[6.6,4],[3,.8],[0,-1.8],[-3,-5.4],[-7,-8.8]]];
const redB7_B8: P[][] = [[[-4.5,-3],[-2.3,-1.9],[0,.9],[3.1,3.4],[5.5,3.1],[4.5,.9],[1.1,-.8],[-1.6,-3],[-3.7,-4]]];

// fit line y at the left and right edges of each panel, and the correlation text
const fits = [
  { row: 1, col: 0, r: "r=0.5647", sig: true, ends: [-5.5, 4.4], pts: ptsMD_SD, grey: greyMD_SD, red: redMD_SD },
  { row: 2, col: 0, r: "r=0.0476", sig: false, ends: [1.15, 0.5], pts: ptsMD_B5, grey: greyMD_B5, red: redMD_B5 },
  { row: 2, col: 1, r: "r=-0.0230", sig: false, ends: [2.9, -0.8], pts: ptsSD_B5, grey: greySD_B5, red: redSD_B5 },
  { row: 3, col: 0, r: "r=0.2383", sig: true, ends: [-1.7, 1.7], pts: ptsMD_B7, grey: greyMD_B7, red: redMD_B7 },
  { row: 3, col: 1, r: "r=0.6060", sig: true, ends: [-6.3, 5.7], pts: ptsSD_B7, grey: greySD_B7, red: redSD_B7 },
  { row: 3, col: 2, r: "r=0.4181", sig: true, ends: [-2.8, 4.3], pts: ptsB5_B7, grey: greyB5_B7, red: redB5_B7 },
  { row: 4, col: 0, r: "r=0.1422", sig: true, ends: [-0.2, 0.5], pts: ptsMD_B8, grey: greyMD_B8, red: redMD_B8 },
  { row: 4, col: 1, r: "r=0.5960", sig: true, ends: [-6, 5.2], pts: ptsSD_B8, grey: greySD_B8, red: redSD_B8 },
  { row: 4, col: 2, r: "r=0.4669", sig: true, ends: [-3.2, 5], pts: ptsB5_B8, grey: greyB5_B8, red: redB5_B8 },
  { row: 4, col: 3, r: "r=0.8923", sig: true, ends: [-8.6, 7.1], pts: ptsB7_B8, grey: greyB7_B8, red: redB7_B8 },
];

// ---------- drawing helpers
type Seg = { d1: number; a1: number; d2: number; a2: number };
function treeSegments(tree: Tree, along: number[], leafDepth: number, stubTo: number | null) {
  const segs: Seg[] = [];
  let i = 0;
  const walk = (node: Tree): number => {
    const pos = node[0] as number;
    const centres: number[] = [];
    node.slice(1).forEach((c) => {
      if (typeof c === "number") {
        for (let k = 0; k < c; k++) {
          const a = along[i++];
          segs.push({ d1: pos, a1: a, d2: leafDepth, a2: a });
          centres.push(a);
        }
      } else {
        const m = walk(c);
        segs.push({ d1: pos, a1: m, d2: c[0] as number, a2: m });
        centres.push(m);
      }
    });
    const lo = d3.min(centres)!, hi = d3.max(centres)!;
    segs.push({ d1: pos, a1: lo, d2: pos, a2: hi });
    return (lo + hi) / 2;
  };
  const rootC = walk(tree);
  if (stubTo !== null) segs.push({ d1: stubTo, a1: rootC, d2: tree[0] as number, a2: rootC });
  return segs;
}

const ROW_H = 8.28;
const inkText = "#3a3a3a";

function Block({ labels, genes, values, tree, x0, cw, yFirst, labelX, originX }: any) {
  const rowY = d3.scaleLinear().domain([0, 1]).range([yFirst, yFirst + ROW_H]);
  const xBand = d3.scaleBand<string>().domain(colsBD).range([x0, x0 + cw * 5]);
  const centres = labels.map((_: string, i: number) => rowY(i));
  const dScale = d3.scaleLinear().domain([0, 20]).range([originX, originX + 20]);
  const segs = treeSegments(tree, centres, labelX - originX - 1, 0);
  return (
    <g>
      {segs.map((s, i) => (
        <line key={i} x1={dScale(s.d1)} x2={dScale(s.d2)} y1={s.a1} y2={s.a2} stroke="#2b2b2b" strokeWidth={0.9} />
      ))}
      {labels.map((l: string, i: number) => (
        <text key={i} x={labelX} y={rowY(i) + 2.4} fontSize={7} fill={inkText}>{l}</text>
      ))}
      {genes.map((l: string, i: number) => (
        <text key={i} x={x0 + cw * 5 + 1} y={rowY(i) + 2.4} fontSize={7} fill={inkText}>{l}</text>
      ))}
      {values.map((row: V[], i: number) =>
        row.map((v, j) => (
          <rect key={`${i}-${j}`} x={xBand(colsBD[j])} y={rowY(i) - ROW_H / 2} width={xBand.bandwidth()} height={ROW_H} fill={cellFill(v)} stroke="none" />
        ))
      )}
      {values.map((row: V[], i: number) => (
        <line key={i} x1={x0} x2={x0 + cw * 5} y1={rowY(i) + ROW_H / 2} y2={rowY(i) + ROW_H / 2} stroke="#222" strokeWidth={0.6} />
      ))}
      {colsBD.slice(1).map((c) => (
        <line key={c} x1={xBand(c)} x2={xBand(c)} y1={yFirst - ROW_H / 2} y2={rowY(values.length - 1) + ROW_H / 2} stroke="#555" strokeWidth={0.35} />
      ))}
      <rect x={x0} y={yFirst - ROW_H / 2} width={cw * 5} height={ROW_H * values.length} fill="none" stroke="#999" strokeWidth={0.5} />
    </g>
  );
}

function Header({ x0, cw, yTop, yBot, tree, leaf, reorder }: any) {
  const xBand = d3.scaleBand<string>().domain(reorder).range([x0, x0 + cw * 5]);
  const centres = reorder.map((c: string) => xBand(c)! + cw / 2);
  const segs = treeSegments(tree, centres, leaf, null);
  return (
    <g>
      {segs.map((s, i) => (
        <line key={i} x1={s.a1} x2={s.a2} y1={s.d1} y2={s.d2} stroke="#555" strokeWidth={0.9} />
      ))}
      {reorder.map((c: string, i: number) => (
        <g key={c}>
          <rect x={xBand(c)} y={yTop} width={cw} height={yBot - yTop} fill={i < 3 ? "#a3d2cd" : "#dba6a6"} />
          <text transform={`translate(${xBand(c)! + cw / 2 - 2.6},${yTop + 1.5}) rotate(90)`} fontSize={7.4} fill="#333">{c}</text>
        </g>
      ))}
    </g>
  );
}

const xEdges = [266.7, 359.3, 452, 544.3, 637.3, 730.3];
const yEdges = [541.7, 595.7, 649, 702.7, 756.3, 809];
const blob = d3.line<P>().curve(d3.curveCatmullRomClosed.alpha(0.5));

function PanelD() {
  const xS = xDomains.map((dm, i) => d3.scaleLinear().domain(dm).range([xEdges[i], xEdges[i + 1]]));
  const yS = yDomains.map((dm, i) => d3.scaleLinear().domain(dm).range([yEdges[i], yEdges[i + 1]]));
  return (
    <g>
      {traits.map((t, i) => (
        <g key={t}>
          <rect x={xEdges[i]} y={yEdges[i]} width={xEdges[i + 1] - xEdges[i]} height={yEdges[i + 1] - yEdges[i]} fill="none" stroke="#cfcfcf" strokeWidth={0.9} />
          <text x={(xEdges[i] + xEdges[i + 1]) / 2} y={(yEdges[i] + yEdges[i + 1]) / 2 + 4.2} fontSize={12} textAnchor="middle" fill="#222">{t}</text>
        </g>
      ))}
      {fits.map((f) => {
        const xs = xS[f.col], ys = yS[f.row];
        const [dx0, dx1] = xDomains[f.col];
        const tr = (p: P): [number, number] => [xs(p[0]), ys(p[1])];
        const line = [[dx0, f.ends[0]], [dx1, f.ends[1]]] as P[];
        const band = d3.area<P>().x((d) => xs(d[0])).y0((d) => ys(d[1] + 0.45)).y1((d) => ys(d[1] - 0.45));
        const px = f.pts.map(tr);
        // the grey density halo appears only where the dots crowd together
        const crowded = px.filter((a) => px.filter((b) => Math.hypot(a[0] - b[0], a[1] - b[1]) < 9).length >= 5);
        return (
          <g key={`${f.row}-${f.col}`}>
            <rect x={xEdges[f.col]} y={yEdges[f.row]} width={xEdges[f.col + 1] - xEdges[f.col]} height={yEdges[f.row + 1] - yEdges[f.row]} fill="none" stroke="#cfcfcf" strokeWidth={0.9} />
            {f.grey.map((g, i) => <path key={i} d={blob(g.map(tr) as any)!} fill="#cfcfcf" />)}
            {crowded.map((a, i) => <circle key={i} cx={a[0]} cy={a[1]} r={3.2} fill="#cfcfcf" />)}
            {px.map((a, i) => <circle key={i} cx={a[0]} cy={a[1]} r={1.3} fill="#1c1c1c" />)}
            {f.red.map((g, i) => <path key={i} d={blob(g.map(tr) as any)!} fill="#b3182d" />)}
            <path d={band(line)!} fill="#f3a0ae" fillOpacity={0.6} />
            <line x1={xs(dx0)} x2={xs(dx1)} y1={ys(f.ends[0])} y2={ys(f.ends[1])} stroke="#ee7f93" strokeWidth={1} />
            <text x={xEdges[f.col] + 1} y={yEdges[f.row] + 6.5} fontSize={6.8} fill={f.sig ? "#5b6fa6" : "#8a8a8a"}>{f.r}</text>
          </g>
        );
      })}
      {yTickVals.map((tk, i) => {
        const lo = Math.ceil(d3.min(yDomains[i])!), hi = Math.floor(d3.max(yDomains[i])!);
        return (
          <g key={i}>
            {d3.range(lo, hi + 1).map((v) => (
              <line key={v} x1={xEdges[0] - (v % 2 === 0 ? 2 : 1)} x2={xEdges[0]} y1={yS[i](v)} y2={yS[i](v)} stroke="#999" strokeWidth={0.5} />
            ))}
            {tk.map((v) => (
              <text key={v} x={263.5} y={yS[i](v) + 2.2 + (i === 3 && v === -10 ? -0.9 : i === 4 && v === 6 ? 0.7 : 0)} fontSize={6.2} textAnchor="end" fill="#555">{v}</text>
            ))}
          </g>
        );
      })}
      {xTickVals.map((tk, i) => {
        const lo = Math.ceil(xDomains[i][0]), hi = Math.floor(xDomains[i][1]);
        return (
          <g key={i}>
            {d3.range(lo, hi + 1).map((v) => (
              <line key={v} y1={yEdges[5]} y2={yEdges[5] + (v % 2 === 0 ? 2 : 1)} x1={xS[i](v)} x2={xS[i](v)} stroke="#999" strokeWidth={0.5} />
            ))}
            {tk.map((v) => (
              <text key={v} x={xS[i](v)} y={818} fontSize={6.4} textAnchor="middle" fill="#555">{v}</text>
            ))}
          </g>
        );
      })}
      <text transform="translate(250.5,673) rotate(-90)" fontSize={12} textAnchor="middle" fill="#222">fold change</text>
      <text x={498} y={832} fontSize={12} textAnchor="middle" fill="#222">fold change</text>
    </g>
  );
}

function Legend() {
  const lx = d3.scaleLinear().domain([-9.5, -1, 1, 9.5]).range([272.7, 352.3, 371, 441.7]);
  const L = 272.7, W = 441.7 - 272.7;
  const off = (v: number) => `${((lx(v) - L) / W) * 100}%`;
  const legendFont = "'DejaVu Sans', Verdana, sans-serif";
  return (
    <g>
      <defs>
        <linearGradient id="fc">
          {colorStops.filter((v) => v <= -1).map((v) => <stop key={v} offset={off(v)} stopColor={colorScale(v)} />)}
          <stop offset={off(-1)} stopColor="#ffffff" />
          <stop offset={off(1)} stopColor="#ffffff" />
          {colorStops.filter((v) => v >= 1).map((v) => <stop key={v} offset={off(v)} stopColor={colorScale(v)} />)}
        </linearGradient>
      </defs>
      <text x={255} y={488.5} fontSize={7.9} fontFamily={legendFont} fill="#222">fold change (control - water deficit condtion)</text>
      <rect x={L} y={511} width={W} height={11} fill="url(#fc)" stroke="#888" strokeWidth={0.6} />
      <line x1={lx(0)} x2={lx(0)} y1={511} y2={522} stroke="#ccc" strokeWidth={0.7} />
      {legendTicks.map((t) => (
        <text key={t} x={t === -9.5 ? 271 : t === 9.5 ? 440 : t === -1 ? 349.3 : t === 1 ? 372.7 : lx(t)} y={508} fontSize={8.2} fontFamily={legendFont} textAnchor="middle" fill="#222">{t}</text>
      ))}
    </g>
  );
}

export default function App() {
  return (
    <svg width={751} height={836} style={{ position: "absolute", left: 0, top: 0, background: "#fff" }} fontFamily={font}>
      <text x={2} y={14.5} fontSize={17.5} fill="#222">a)</text>
      <text x={238} y={14.5} fontSize={17.5} fill="#222">b)</text>
      <text x={492} y={14.5} fontSize={17.5} fill="#222">c)</text>
      <text x={232} y={553.5} fontSize={17.5} fill="#222">d)</text>

      <Header x0={108.5} cw={8.3} yTop={29} yBot={55.6} tree={aColTree} leaf={28.5} reorder={colsBD} />
      <Block labels={aTopLabels} genes={aTopGenes} values={aTopValues} tree={aTopTree} x0={108.5} cw={8.3} yFirst={59.7} labelX={19.5} originX={0} />
      <Block labels={aLowLabels} genes={aLowGenes} values={aLowValues} tree={aLowTree} x0={108.5} cw={8.3} yFirst={344} labelX={17} originX={0} />

      <Header x0={342.7} cw={8.3} yTop={30} yBot={56.2} tree={bColTree} leaf={29.5} reorder={colsBD} />
      <Block labels={bTopLabels} genes={bTopGenes} values={bTopValues} tree={bTopTree} x0={342.7} cw={8.3} yFirst={60.3} labelX={254} originX={235} />
      <Block labels={bLowLabels} genes={bLowGenes} values={bLowValues} tree={bLowTree} x0={342.7} cw={8.3} yFirst={271} labelX={254} originX={235} />

      <Header x0={600} cw={8.25} yTop={32.7} yBot={59.6} tree={cColTree} leaf={32.5} reorder={colsBD} />
      <Block labels={cTopLabels} genes={cTopGenes} values={cTopValues} tree={cTopTree} x0={600} cw={8.25} yFirst={63.7} labelX={510.7} originX={490} />
      <Block labels={cLowLabels} genes={cLowGenes} values={cLowValues} tree={cLowTree} x0={600} cw={8.25} yFirst={174.3} labelX={511.7} originX={490} />

      <Legend />
      <PanelD />
    </svg>
  );
}
